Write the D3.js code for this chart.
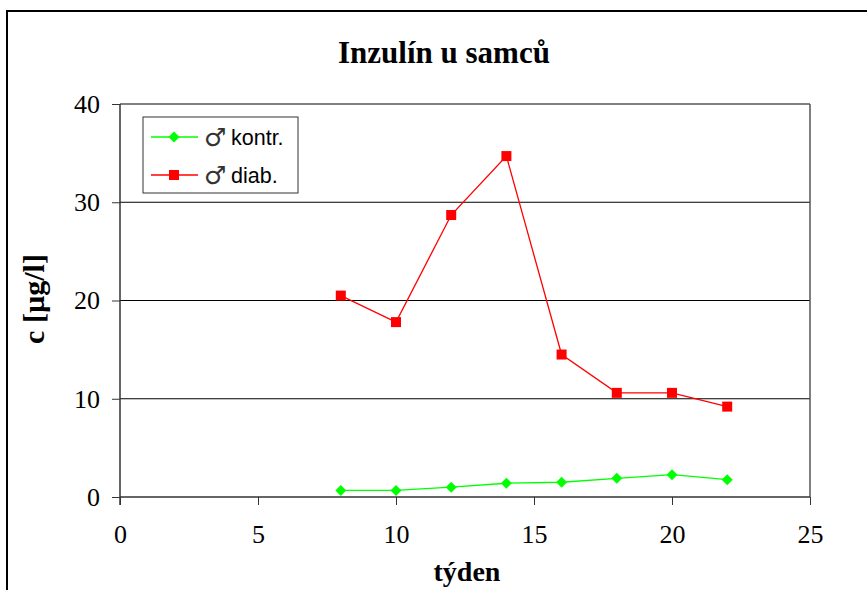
<!DOCTYPE html>
<html><head><meta charset="utf-8">
<script src="https://cdn.jsdelivr.net/npm/d3@7"></script>
<style>body{margin:0;background:#fff}svg{display:block}
svg .tick text{font-family:"Liberation Serif","Times New Roman",serif;font-size:26px}
</style>
</head><body>
<svg id="c" width="867" height="590"></svg>
<script>
const weeks = [8, 10, 12, 14, 16, 18, 20, 22];
const kontr = [0.67, 0.67, 1.0, 1.4, 1.5, 1.9, 2.27, 1.76];
const diab = [20.5, 17.8, 28.7, 34.7, 14.5, 10.6, 10.6, 9.2];
const xTicks = [0, 5, 10, 15, 20, 25];
const yTicks = [0, 10, 20, 30, 40];
const seriesNames = ["kontr.", "diab."];
const maleSign = "\u2642";
const title = "Inzulín u samců";
const xTitle = "týden";
const yTitle = "c [µg/l]";

const SERIF = "'Liberation Serif', 'Times New Roman', serif";
const SANS = "'Liberation Sans', Arial, sans-serif";
const svg = d3.select("#c");

// outer frame
svg.append("rect").attr("x", 7).attr("y", 11).attr("width", 900).attr("height", 700)
  .attr("fill", "#fff").attr("stroke", "#000").attr("stroke-width", 2);

const L = 120, R = 810, T = 104, B = 497;
const x = d3.scaleLinear().domain([0, 25]).range([L, R]);
const y = d3.scaleLinear().domain([0, 40]).range([B, T]);

// gridlines
svg.append("g").selectAll("line").data(yTicks.filter(d => d > 0)).join("line")
  .attr("x1", L).attr("x2", R).attr("y1", d => y(d)).attr("y2", d => y(d))
  .attr("stroke", "#000").attr("stroke-width", 1);

// plot border right
svg.append("line").attr("x1", R).attr("x2", R).attr("y1", T).attr("y2", B)
  .attr("stroke", "#555").attr("stroke-width", 1.5);

// axes
const xAxis = svg.append("g").attr("transform", `translate(0,${B})`)
  .call(d3.axisBottom(x).tickValues(xTicks).tickSize(8).tickPadding(20).tickFormat(d3.format("d")));
const yAxis = svg.append("g").attr("transform", `translate(${L},0)`)
  .call(d3.axisLeft(y).tickValues(yTicks).tickSize(8).tickPadding(12).tickFormat(d3.format("d")));
[xAxis, yAxis].forEach(a => {
  a.attr("font-family", SERIF).attr("font-size", 26);
  a.select(".domain").attr("stroke", "#333").attr("stroke-width", 1.5);
  a.selectAll(".tick line").attr("stroke", "#333").attr("stroke-width", 1);
  a.selectAll(".tick text").attr("fill", "#000");
});
xAxis.select(".domain").attr("d", `M${L},0H${R}`);
yAxis.select(".domain").attr("d", `M0,${T}V${B + 8}`);
xAxis.selectAll(".tick text").attr("dy", "0.71em");

// lines
const line = d3.line().x((d, i) => x(weeks[i])).y(d => y(d));
svg.append("path").datum(kontr).attr("d", line).attr("fill", "none").attr("stroke", "#00ff00").attr("stroke-width", 1.3);
svg.append("path").datum(diab).attr("d", line).attr("fill", "none").attr("stroke", "#ff0000").attr("stroke-width", 1.3);

svg.append("g").selectAll("path").data(kontr).join("path")
  .attr("d", d3.symbol().type(d3.symbolSquare).size(60))
  .attr("transform", (d, i) => `translate(${x(weeks[i])},${y(d)}) rotate(45)`)
  .attr("fill", "#00ff00");
svg.append("g").selectAll("rect").data(diab).join("rect")
  .attr("x", (d, i) => x(weeks[i]) - 5).attr("y", d => y(d) - 5)
  .attr("width", 10).attr("height", 10).attr("fill", "#ff0000");

// titles
svg.append("text").attr("x", 444).attr("y", 63).attr("text-anchor", "middle")
  .style("font-family", SERIF).style("font-weight", "bold").style("font-size", "31px").text(title);
svg.append("text").attr("x", 467).attr("y", 581).attr("text-anchor", "middle")
  .style("font-family", SERIF).style("font-weight", "bold").style("font-size", "28px").text(xTitle);
svg.append("text").attr("transform", "translate(44,299) rotate(-90)").attr("text-anchor", "middle")
  .style("font-family", SERIF).style("font-weight", "bold").style("font-size", "30px").text(yTitle);

// legend
const lg = svg.append("g");
lg.append("rect").attr("x", 143).attr("y", 117).attr("width", 155).attr("height", 76)
  .attr("fill", "#fff").attr("stroke", "#333").attr("stroke-width", 1);
const colors = ["#00ff00", "#ff0000"];
const ly = [137, 175];
seriesNames.forEach((n, i) => {
  lg.append("line").attr("x1", 151).attr("x2", 198).attr("y1", ly[i]).attr("y2", ly[i])
    .attr("stroke", colors[i]).attr("stroke-width", 1.3);
  if (i === 0) {
    lg.append("path").attr("d", d3.symbol().type(d3.symbolSquare).size(60))
      .attr("transform", `translate(174,${ly[i]}) rotate(45)`).attr("fill", colors[i]);
  } else {
    lg.append("rect").attr("x", 169).attr("y", ly[i] - 5).attr("width", 10).attr("height", 10).attr("fill", colors[i]);
  }
  lg.append("text").attr("x", 204).attr("y", ly[i] + 9)
    .style("font-family", "'DejaVu Sans'").style("font-size", "25px").attr("fill", "#333").text(maleSign);
  lg.append("text").attr("x", 231).attr("y", ly[i]).attr("dy", "0.36em")
    .style("font-family", SANS).style("font-size", "21.5px").attr("fill", "#000").text(n);
});
</script>
</body></html>
